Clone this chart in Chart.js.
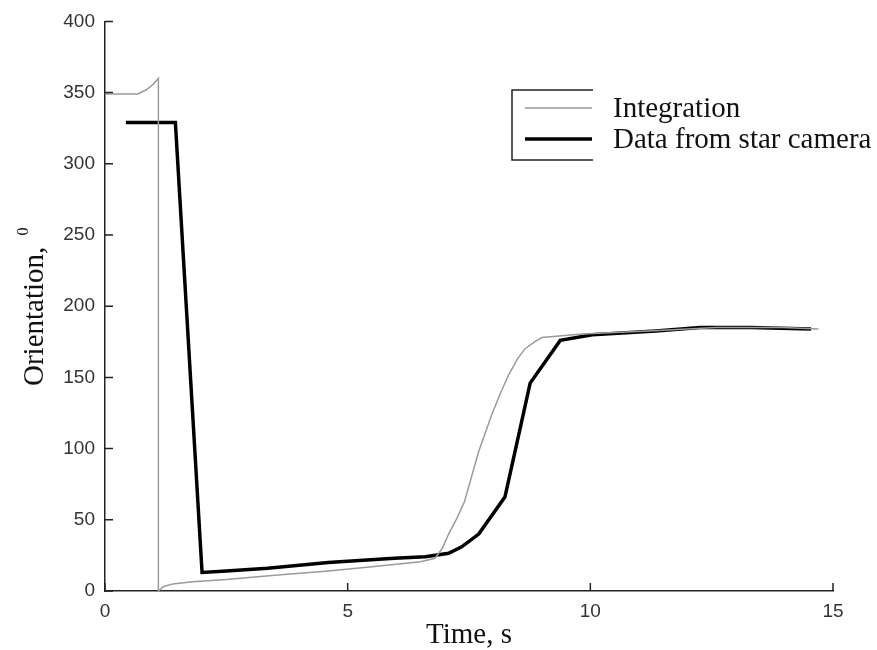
<!DOCTYPE html>
<html lang="en">
<head>
    <meta charset="UTF-8">
    <title>Orientation vs time</title>
    <script src="https://cdn.jsdelivr.net/npm/chart.js"></script>
    <style>
        body {
            margin: 0;
            padding: 0;
            background-color: white;
        }
        #wrap {
            width: 877px;
            height: 650px;
        }
    </style>
</head>
<body>
    <div id="wrap">
        <canvas id="orientChart" width="877" height="650"></canvas>
    </div>
    <script>
        // Integration curve (grey)
        const intTime = [0, 0.68, 0.85, 1.0, 1.1, 1.1, 1.2, 1.4, 1.8, 2.5, 3.5, 4.6, 5.5, 6.5, 6.8, 6.95, 7.08, 7.25, 7.41, 7.55, 7.7, 7.97, 8.15, 8.32, 8.5, 8.65, 8.85, 9.0, 9.83, 11.2, 12.6, 13.97, 14.7];
        const intVals = [349, 349, 352, 356, 360, 0, 3, 5, 6.5, 8, 11, 14, 17, 20.5, 23, 30, 40, 51, 63, 80, 98, 124, 139, 152, 163, 170, 175, 178, 180.5, 182.6, 185, 185, 184];

        // Star camera data (black)
        const starTime = [0.43, 1.45, 2.0, 2.5, 3.35, 4.6, 5.96, 6.6, 7.08, 7.35, 7.7, 8.24, 8.76, 9.38, 10.04, 11.35, 12.26, 13.3, 14.55];
        const starVals = [329, 329, 13, 14, 16, 20, 23, 24, 26.5, 31, 40, 66, 146, 176, 180, 182.6, 185, 185, 184];

        const seriesNames = ['Integration', 'Data from star camera'];
        const xTicks = [0, 5, 10, 15];
        const yTicks = [0, 50, 100, 150, 200, 250, 300, 350, 400];

        const toPoints = (xs, ys) => xs.map((x, i) => ({ x: x, y: ys[i] }));

        // ticks pointing into the plot, like the original
        const innerTicks = {
            id: 'innerTicks',
            afterDraw(chart) {
                const ctx = chart.ctx;
                const xs = chart.scales.x, ys = chart.scales.y;
                const area = chart.chartArea;
                ctx.save();
                ctx.strokeStyle = '#222';
                ctx.lineWidth = 1.5;
                ctx.beginPath();
                xTicks.forEach(v => {
                    const px = xs.getPixelForValue(v);
                    ctx.moveTo(px, area.bottom);
                    ctx.lineTo(px, area.bottom - 8);
                });
                yTicks.forEach(v => {
                    const py = ys.getPixelForValue(v);
                    ctx.moveTo(area.left, py);
                    ctx.lineTo(area.left + 8, py);
                });
                ctx.stroke();
                ctx.restore();
            }
        };

        // axis titles in serif, y title with a raised degree zero
        const axisTitles = {
            id: 'axisTitles',
            afterDraw(chart) {
                const ctx = chart.ctx;
                const area = chart.chartArea;
                ctx.save();
                ctx.fillStyle = '#111';
                ctx.font = '29px "Liberation Serif"';
                ctx.textAlign = 'center';
                ctx.textBaseline = 'alphabetic';
                ctx.fillText('Time, s', (area.left + area.right) / 2, 643);

                ctx.translate(43, 386);
                ctx.rotate(-Math.PI / 2);
                ctx.textAlign = 'left';
                ctx.fillText('Orientation,', 0, 0);
                const w = ctx.measureText('Orientation, ').width;
                ctx.font = '16px "Liberation Serif"';
                ctx.fillText('0', w + 4, -15);
                ctx.restore();
            }
        };

        // legend box open on the right, as in the picture
        const boxLegend = {
            id: 'boxLegend',
            afterDraw(chart) {
                const ctx = chart.ctx;
                ctx.save();
                ctx.strokeStyle = '#222';
                ctx.lineWidth = 1.5;
                ctx.beginPath();
                ctx.moveTo(593, 90);
                ctx.lineTo(512, 90);
                ctx.lineTo(512, 160);
                ctx.lineTo(593, 160);
                ctx.stroke();
                const rows = [108, 139];
                chart.data.datasets.forEach((ds, i) => {
                    ctx.strokeStyle = ds.borderColor;
                    ctx.lineWidth = ds.borderWidth;
                    ctx.beginPath();
                    ctx.moveTo(525, rows[i]);
                    ctx.lineTo(592, rows[i]);
                    ctx.stroke();
                    ctx.fillStyle = '#111';
                    ctx.font = '29px "Liberation Serif"';
                    ctx.textBaseline = 'middle';
                    ctx.fillText(ds.label, 613, rows[i] + 1);
                });
                ctx.restore();
            }
        };

        const ctx = document.getElementById('orientChart').getContext('2d');
        const orientChart = new Chart(ctx, {
            type: 'line',
            data: {
                datasets: [{
                    label: seriesNames[0],
                    data: toPoints(intTime, intVals),
                    borderColor: '#9a9a9a',
                    borderWidth: 1.5,
                    pointRadius: 0,
                    tension: 0
                }, {
                    label: seriesNames[1],
                    data: toPoints(starTime, starVals),
                    borderColor: '#000000',
                    borderWidth: 3.5,
                    pointRadius: 0,
                    tension: 0
                }]
            },
            options: {
                responsive: false,
                animation: false,
                layout: {
                    padding: { top: 17, right: 44, left: 0, bottom: 0 }
                },
                plugins: {
                    legend: { display: false },
                    tooltip: { enabled: false }
                },
                scales: {
                    x: {
                        type: 'linear',
                        min: 0,
                        max: 15,
                        afterBuildTicks: s => { s.ticks = xTicks.map(v => ({ value: v })); },
                        afterFit: s => { s.height = 59; },
                        grid: { display: false, drawTicks: false },
                        border: { display: true, color: '#222', width: 1.5 },
                        ticks: {
                            padding: 9,
                            maxRotation: 0,
                            color: '#333',
                            font: { family: 'Liberation Sans', size: 19 }
                        }
                    },
                    y: {
                        min: 0,
                        max: 400,
                        afterBuildTicks: s => { s.ticks = yTicks.map(v => ({ value: v })); },
                        afterFit: s => { s.width = 105; },
                        grid: { display: false, drawTicks: false },
                        border: { display: true, color: '#222', width: 1.5 },
                        ticks: {
                            padding: 10,
                            color: '#333',
                            font: { family: 'Liberation Sans', size: 19 }
                        }
                    }
                }
            },
            plugins: [innerTicks, axisTitles, boxLegend]
        });
    </script>
</body>
</html>
